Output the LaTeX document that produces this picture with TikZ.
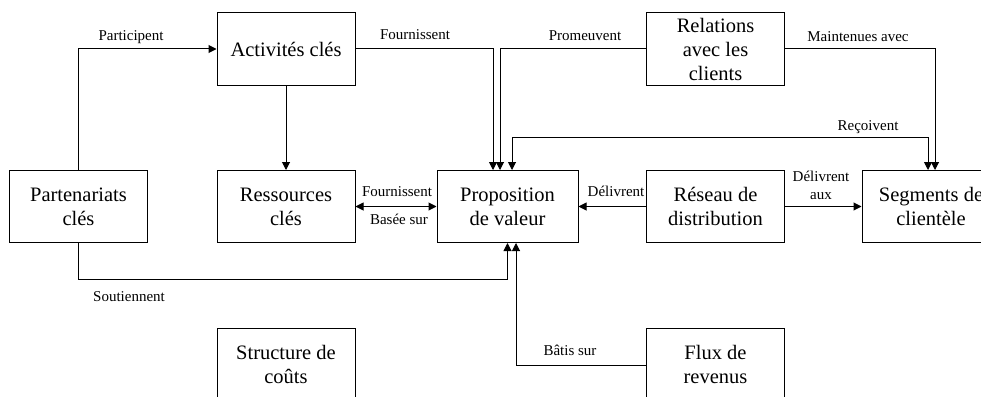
\documentclass[tikz,border=0pt]{standalone}
\usepackage{fontspec}
\setmainfont{Liberation Serif}
\usetikzlibrary{arrows.meta}
\tikzset{
  box/.style={draw=black, line width=1pt, minimum width=138pt, minimum height=72pt, inner sep=2pt, align=center, font=\fontsize{20.5}{24}\selectfont},
  lbl/.style={inner sep=0pt, align=center, font=\fontsize{15}{18}\selectfont},
  conn/.style={draw=black, line width=1pt, -{Triangle[length=8pt,width=8pt]}},
  conn2/.style={draw=black, line width=1pt, {Triangle[length=8pt,width=8pt]}-{Triangle[length=8pt,width=8pt]}}
}
\begin{document}
\begin{tikzpicture}[x=1pt,y=-1pt]
\clip (0,0) rectangle (981,396);
\fill[white] (0,0) rectangle (981,396);
% boxes
\node[box] (act) at (286,49) {Activités clés};
\node[box] (rel) at (715.5,49) {Relations\\avec les\\clients};
\node[box] (part) at (78.5,206.5) {Partenariats\\clés};
\node[box] (res) at (286,206.5) {Ressources\\clés};
\node[box, minimum width=141pt] (prop) at (507.5,206.5) {Proposition\\de valeur};
\node[box] (dist) at (715.5,206.5) {Réseau de\\distribution};
\node[box] (seg) at (931,206.5) {Segments de\\clientèle};
\node[box] (struct) at (286,364) {Structure de\\coûts};
\node[box] (flux) at (715.5,364) {Flux de\\revenus};
% connectors
\draw[conn] (part.north) |- (act.west);
\draw[conn] (act.south) -- (res.north);
\draw[conn] (act.east) -| ([xshift=-14.5pt]prop.north);
\draw[conn] (rel.west) -| ([xshift=-7.5pt]prop.north);
\draw[conn] (rel.east) -| ([xshift=4pt]seg.north);
\draw[conn2] ([xshift=4.5pt]prop.north) -- ++(0,-33) -| ([xshift=-3pt]seg.north);
\draw[conn2] (res.east) -- (prop.west);
\draw[conn] (dist.west) -- (prop.east);
\draw[conn] (dist.east) -- (seg.west);
\draw[conn] (part.south) -- ++(0,36) -| (prop.south);
\draw[conn] ([yshift=-1pt]flux.west) -| ([xshift=8.5pt]prop.south);
% labels
\node[lbl] (l1) at (131,37) {Participent};
\node[lbl] (l2) at (415,35) {Fournissent};
\node[lbl] (l3) at (585,36) {Promeuvent};
\node[lbl] (l4) at (858,37) {Maintenues avec};
\node[lbl] (l5) at (868,127) {Reçoivent};
\node[lbl] (l6) at (397,192) {Fournissent};
\node[lbl] (l7) at (399,219) {Basée sur};
\node[lbl] (l8) at (616,191) {Délivrent};
\node[lbl] (l9) at (821,185) {Délivrent\\aux};
\node[lbl] (l10) at (129,297) {Soutiennent};
\node[lbl] (l11) at (570,350) {Bâtis sur};
\end{tikzpicture}
\end{document}
